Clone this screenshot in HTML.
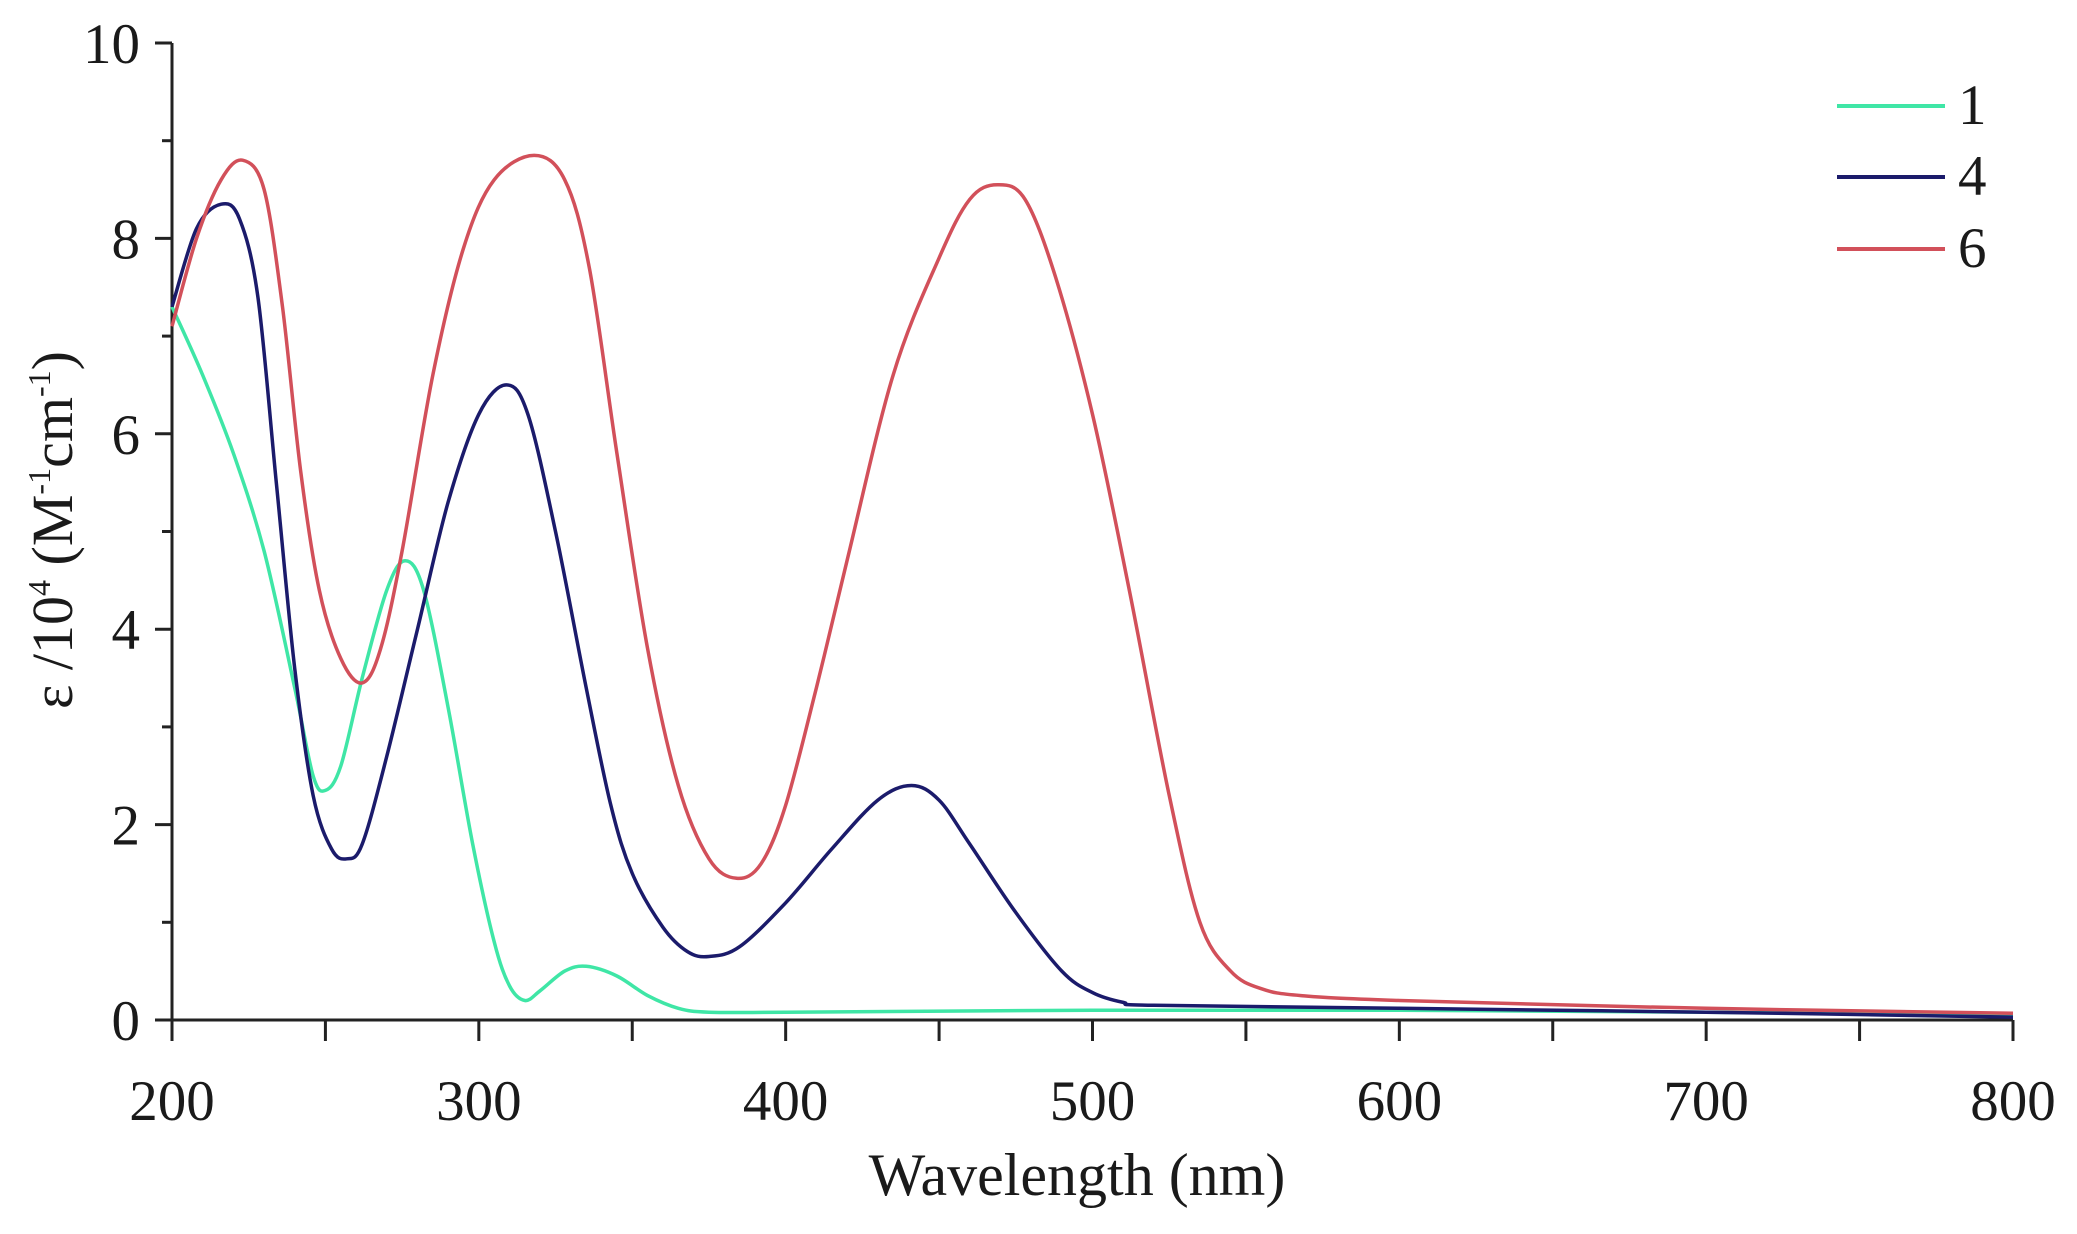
<!DOCTYPE html>
<html><head><meta charset="utf-8"><style>
html,body{margin:0;padding:0;background:#fff;}
svg{display:block;font-family:"Liberation Serif",serif;}
</style></head><body>
<svg id="s" width="2077" height="1234" viewBox="0 0 2077 1234" xmlns="http://www.w3.org/2000/svg">
<g id="ax" stroke="#222" stroke-width="3" fill="none"></g>
<g id="lb" fill="#1a1a1a" font-size="57"></g>
<path id="p1" fill="none" stroke="#3fe6a6" stroke-width="3.5"/>
<path id="p4" fill="none" stroke="#1b1b6b" stroke-width="3.5"/>
<path id="p6" fill="none" stroke="#d2505a" stroke-width="3.5"/>
<line x1="1837" y1="106" x2="1945" y2="106" stroke="#3fe6a6" stroke-width="4"/>
<line x1="1837" y1="177" x2="1945" y2="177" stroke="#1b1b6b" stroke-width="4"/>
<line x1="1837" y1="249" x2="1945" y2="249" stroke="#d2505a" stroke-width="4"/>
<text x="1958" y="124" font-size="57" fill="#1a1a1a">1</text>
<text x="1958" y="195" font-size="57" fill="#1a1a1a">4</text>
<text x="1958" y="267" font-size="57" fill="#1a1a1a">6</text>
<text x="1077" y="1195" font-size="60" text-anchor="middle" fill="#1a1a1a">Wavelength (nm)</text>
<text transform="translate(72,530) rotate(-90)" font-size="58" text-anchor="middle" fill="#1a1a1a">ε /10<tspan font-size="32" dy="-22">4</tspan><tspan dy="22"> (M</tspan><tspan font-size="32" dy="-22">-1</tspan><tspan dy="22">cm</tspan><tspan font-size="32" dy="-22">-1</tspan><tspan dy="22">)</tspan></text>
</svg>
<script>
var X=function(w){return 172+(w-200)*1841/600;};
var Y=function(v){return 1020-v*97.7;};
var ax=document.getElementById('ax'),lb=document.getElementById('lb');
var h='<line x1="172" y1="43" x2="172" y2="1020"/><line x1="172" y1="1020" x2="2013" y2="1020"/>';
for(var i=0;i<=10;i++){var y=Y(i);h+='<line x1="'+(i%2?162:155)+'" y1="'+y+'" x2="172" y2="'+y+'"/>';}
for(var w=200;w<=800;w+=50){var x=X(w);h+='<line x1="'+x+'" y1="1020" x2="'+x+'" y2="1041"/>';}
ax.innerHTML=h;
var t='';
for(var i=0;i<=10;i+=2){t+='<text x="140" y="'+(Y(i)+20)+'" text-anchor="end">'+i+'</text>';}
for(var w=200;w<=800;w+=100){t+='<text x="'+X(w)+'" y="1120" text-anchor="middle">'+w+'</text>';}
lb.innerHTML=t;
function path(pts){var P=pts.map(function(p){return [X(p[0]),Y(p[1])];});
var d='M'+P[0][0]+','+P[0][1];
for(var i=0;i<P.length-1;i++){var p0=P[i-1]||P[i],p1=P[i],p2=P[i+1],p3=P[i+2]||p2;
var c1=[p1[0]+(p2[0]-p0[0])/6,p1[1]+(p2[1]-p0[1])/6],c2=[p2[0]-(p3[0]-p1[0])/6,p2[1]-(p3[1]-p1[1])/6];
d+=' C'+c1[0].toFixed(1)+','+c1[1].toFixed(1)+' '+c2[0].toFixed(1)+','+c2[1].toFixed(1)+' '+p2[0].toFixed(1)+','+p2[1].toFixed(1);}
return d;}
var g=[[200,7.3],[210,6.6],[220,5.8],[230,4.8],[240,3.4],[246,2.5],[250,2.35],[255,2.6],[262,3.5],[270,4.4],[276,4.7],[282,4.4],[290,3.2],[298,1.8],[305,0.8],[310,0.35],[315,0.2],[320,0.3],[328,0.5],[335,0.55],[345,0.45],[355,0.25],[365,0.12],[375,0.08],[400,0.08],[500,0.1],[600,0.1],[700,0.08],[800,0.05]];
var n=[[200,7.3],[208,8.1],[216,8.35],[222,8.2],[228,7.4],[234,5.5],[240,3.6],[246,2.3],[252,1.75],[257,1.65],[262,1.8],[270,2.7],[280,4.0],[290,5.3],[300,6.2],[309,6.5],[316,6.2],[325,5.0],[335,3.4],[343,2.2],[350,1.5],[360,0.95],[368,0.7],[375,0.65],[385,0.75],[400,1.2],[415,1.75],[430,2.25],[441,2.4],[450,2.25],[460,1.8],[475,1.1],[490,0.5],[500,0.28],[510,0.18],[520,0.15],[600,0.12],[700,0.08],[800,0.03]];
var r=[[200,7.1],[208,8.0],[216,8.6],[223,8.8],[230,8.5],[236,7.3],[242,5.6],[248,4.4],[255,3.7],[262,3.45],[268,3.8],[275,4.8],[285,6.6],[295,7.9],[305,8.6],[318,8.85],[328,8.6],[336,7.7],[345,5.8],[355,3.8],[365,2.4],[375,1.65],[384,1.45],[392,1.6],[400,2.2],[410,3.4],[420,4.7],[435,6.6],[450,7.8],[460,8.4],[469,8.55],[478,8.4],[488,7.6],[500,6.2],[512,4.4],[525,2.3],[535,1.0],[545,0.5],[555,0.32],[568,0.25],[600,0.2],[700,0.12],[800,0.07]];
document.getElementById('p1').setAttribute('d',path(g));
document.getElementById('p4').setAttribute('d',path(n));
document.getElementById('p6').setAttribute('d',path(r));
</script>
</body></html>
